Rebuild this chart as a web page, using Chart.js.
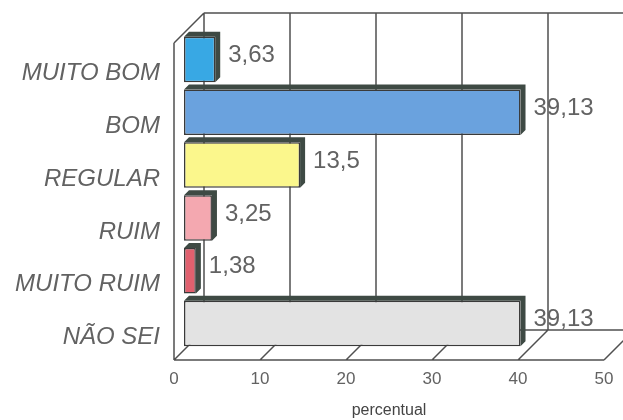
<!DOCTYPE html>
<html>
<head>
<meta charset="utf-8">
<script src="https://cdn.jsdelivr.net/npm/chart.js@4"></script>
<style>
  html, body { margin: 0; padding: 0; background: #ffffff; }
  #wrap { width: 623px; height: 420px; position: relative; }
</style>
</head>
<body>
<div id="wrap"><canvas id="c" width="623" height="420"></canvas></div>
<script>
// ---- data ----
const categories = ["MUITO BOM", "BOM", "REGULAR", "RUIM", "MUITO RUIM", "NÃO SEI"];
const percentValues = [3.63, 39.13, 13.5, 3.25, 1.38, 39.13];
const valueLabels = ["3,63", "39,13", "13,5", "3,25", "1,38", "39,13"];
const xTickValues = [0, 10, 20, 30, 40, 50];
const axisTitle = "percentual";

// ---- styles ----
const barColors = ["#38a8e4", "#6aa2de", "#fbf78c", "#f4a8b0", "#e0606e", "#e3e3e3"];
const lineColor = "#505050";
const textColor = "#626262";
const DEPTH = { dx: 30, dy: -30 };   // box depth
const BAR_SHIFT = { dx: 10, dy: -10 }; // bars sit inside the box
const BAR_DEPTH = { dx: 5, dy: -5 };

const box3d = {
  id: 'box3d',
  beforeDatasetsDraw(chart) {
    const ctx = chart.ctx;
    const xs = chart.scales.x, ys = chart.scales.y;
    const L = xs.getPixelForValue(xTickValues[0]);
    const R = xs.getPixelForValue(xTickValues[xTickValues.length - 1]);
    const T = ys.top, B = ys.bottom;
    const dx = DEPTH.dx, dy = DEPTH.dy;
    ctx.save();
    ctx.strokeStyle = lineColor;
    ctx.lineWidth = 1.5;
    ctx.beginPath();
    // back wall gridlines
    xTickValues.forEach(v => {
      const x = xs.getPixelForValue(v) + dx;
      ctx.moveTo(x, T + dy); ctx.lineTo(x, B + dy);
    });
    // back top & bottom edges
    ctx.moveTo(L + dx, T + dy); ctx.lineTo(R + dx, T + dy);
    ctx.moveTo(L + dx, B + dy); ctx.lineTo(R + dx, B + dy);
    // floor diagonals
    xTickValues.forEach(v => {
      const x = xs.getPixelForValue(v);
      ctx.moveTo(x, B); ctx.lineTo(x + dx, B + dy);
    });
    // front floor edge
    ctx.moveTo(L, B); ctx.lineTo(R, B);
    // left wall
    ctx.moveTo(L, T); ctx.lineTo(L, B);
    ctx.moveTo(L, T); ctx.lineTo(L + dx, T + dy);
    ctx.stroke();
    ctx.restore();

    // bar depth faces
    const meta = chart.getDatasetMeta(0);
    ctx.save();
    ctx.translate(BAR_SHIFT.dx, BAR_SHIFT.dy);
    meta.data.forEach((bar) => {
      const p = bar.getProps(['x', 'y', 'base', 'height'], true);
      const top = p.y - p.height / 2, bot = p.y + p.height / 2;
      ctx.fillStyle = "#3e4a44";
      ctx.beginPath();
      ctx.moveTo(p.base, top);
      ctx.lineTo(p.base + BAR_DEPTH.dx, top + BAR_DEPTH.dy);
      ctx.lineTo(p.x + BAR_DEPTH.dx, top + BAR_DEPTH.dy);
      ctx.lineTo(p.x + BAR_DEPTH.dx, bot + BAR_DEPTH.dy);
      ctx.lineTo(p.x, bot);
      ctx.lineTo(p.x, top);
      ctx.closePath();
      ctx.fill();
    });
    ctx.restore();
    // shift the library-drawn bars into the box
    ctx.save();
    ctx.translate(BAR_SHIFT.dx, BAR_SHIFT.dy);
  },
  afterDatasetsDraw(chart) {
    const ctx = chart.ctx;
    ctx.restore();
    const meta = chart.getDatasetMeta(0);
    ctx.save();
    ctx.fillStyle = textColor;
    ctx.font = '24px "Liberation Sans", Arial, sans-serif';
    ctx.textAlign = 'left';
    ctx.textBaseline = 'middle';
    meta.data.forEach((bar, i) => {
      const p = bar.getProps(['x', 'y'], true);
      ctx.fillText(valueLabels[i], p.x + BAR_SHIFT.dx + 13, p.y + BAR_SHIFT.dy - 4);
    });
    ctx.restore();
  }
};

new Chart(document.getElementById('c'), {
  type: 'bar',
  data: {
    labels: categories,
    datasets: [{
      data: percentValues,
      backgroundColor: barColors,
      borderColor: "#3a3a3a",
      borderWidth: 1.5,
      borderSkipped: false,
      categoryPercentage: 0.86,
      barPercentage: 1.0,
      clip: false
    }]
  },
  options: {
    indexAxis: 'y',
    responsive: false,
    animation: false,
    devicePixelRatio: 1,
    layout: { padding: { top: 43, right: 19, left: 0, bottom: 0 } },
    plugins: { legend: { display: false }, tooltip: { enabled: false } },
    scales: {
      x: {
        min: 0, max: 50,
        afterFit(s) { s.height = 60; },
        afterBuildTicks(s) { s.ticks = xTickValues.map(v => ({ value: v })); },
        grid: { display: false, drawTicks: false },
        border: { display: false },
        ticks: {
          color: textColor, padding: 9,
          font: { family: '"Liberation Sans", Arial, sans-serif', size: 17 },
          maxRotation: 0
        },
        title: {
          display: true, text: axisTitle, color: "#444",
          font: { family: '"Liberation Sans", Arial, sans-serif', size: 16 },
          padding: { top: 8, bottom: 0 }
        }
      },
      y: {
        afterFit(s) { s.width = 174; },
        grid: { display: false, drawTicks: false },
        border: { display: false },
        ticks: {
          color: textColor, padding: 14, labelOffset: 4,
          font: { family: '"Liberation Sans", Arial, sans-serif', size: 24, style: 'italic' }
        }
      }
    }
  },
  plugins: [box3d]
});
</script>
</body>
</html>
